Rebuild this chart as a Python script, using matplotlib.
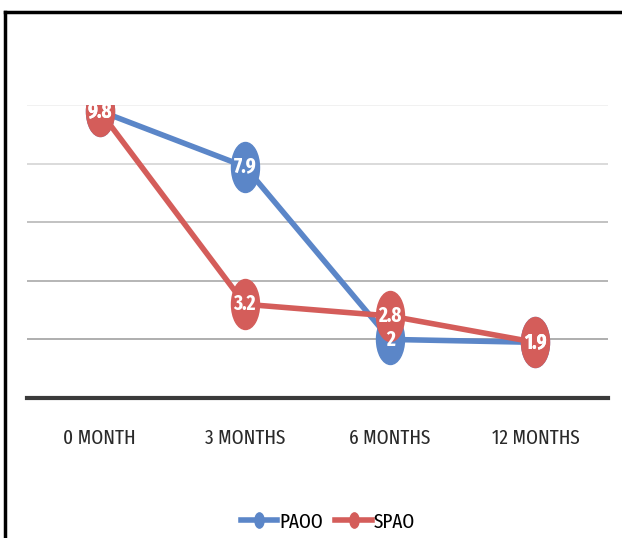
import numpy as np
import matplotlib.pyplot as plt
from matplotlib.path import Path
from matplotlib.transforms import Affine2D
from matplotlib.lines import Line2D

plt.rcParams['font.family'] = ['Fira Sans Extra Condensed', 'DejaVu Sans']

months = ['0 MONTH', '3 MONTHS', '6 MONTHS', '12 MONTHS']
paoo = [9.8, 7.9, 2, 1.9]
spao = [9.8, 3.2, 2.8, 1.9]

blue = '#5B86C8'
red = '#D45D5A'

# tall, narrow oval marker
oval = Affine2D().scale(0.56, 1.0).transform_path(Path.unit_circle())

fig = plt.figure(figsize=(6.22, 5.38), dpi=100)
ax = fig.add_axes([0.0434, 0.2602, 0.9341, 0.5446])

x = np.arange(len(months))
for vals, col in [(paoo, blue), (spao, red)]:
    ax.plot(x, vals, color=col, lw=4, marker=oval, markersize=36,
            markerfacecolor=col, markeredgecolor=col, zorder=3,
            solid_capstyle='round')

for vals in (paoo, spao):
    for xi, v in zip(x, vals):
        ax.text(xi, v, f'{v:g}', color='white', fontsize=15, fontweight='bold',
                ha='center', va='center', zorder=5)

ax.set_xlim(-0.5, 3.5)
ax.set_ylim(0, 10)
grid_cols = {2: '#A8A8A8', 4: '#B0B0B0', 6: '#BDBDBD', 8: '#D8D8D8', 10: '#F0F0F0'}
for lvl, c in grid_cols.items():
    ax.axhline(lvl, color=c, lw=1.3, zorder=1)
ax.axhline(0, color='#3A3A3A', lw=3, zorder=2, clip_on=False)

for s in ax.spines.values():
    s.set_visible(False)
ax.set_yticks([])
ax.set_xticks(x)
ax.set_xticklabels(months, fontsize=15, color='#2A2A2A')
ax.tick_params(axis='x', length=0, pad=22)

small_oval = Affine2D().scale(0.6, 1.0).transform_path(Path.unit_circle())
handles = [Line2D([], [], color=blue, lw=4, marker=small_oval, markersize=11),
           Line2D([], [], color=red, lw=4, marker=small_oval, markersize=11)]
fig.legend(handles, ['PAOO', 'SPAO'], loc='center', bbox_to_anchor=(0.527, 0.03),
           ncol=2, frameon=False, fontsize=15, handlelength=1.75,
           handletextpad=0.1, columnspacing=0.6)

# frame on the top and left edges
fig.add_artist(Line2D([0.008, 1.0], [0.978, 0.978], color='black', lw=2.5,
                      transform=fig.transFigure))
fig.add_artist(Line2D([0.008, 0.008], [0.0, 0.978], color='black', lw=2.5,
                      transform=fig.transFigure))

fig.savefig('out.png', dpi=100)
